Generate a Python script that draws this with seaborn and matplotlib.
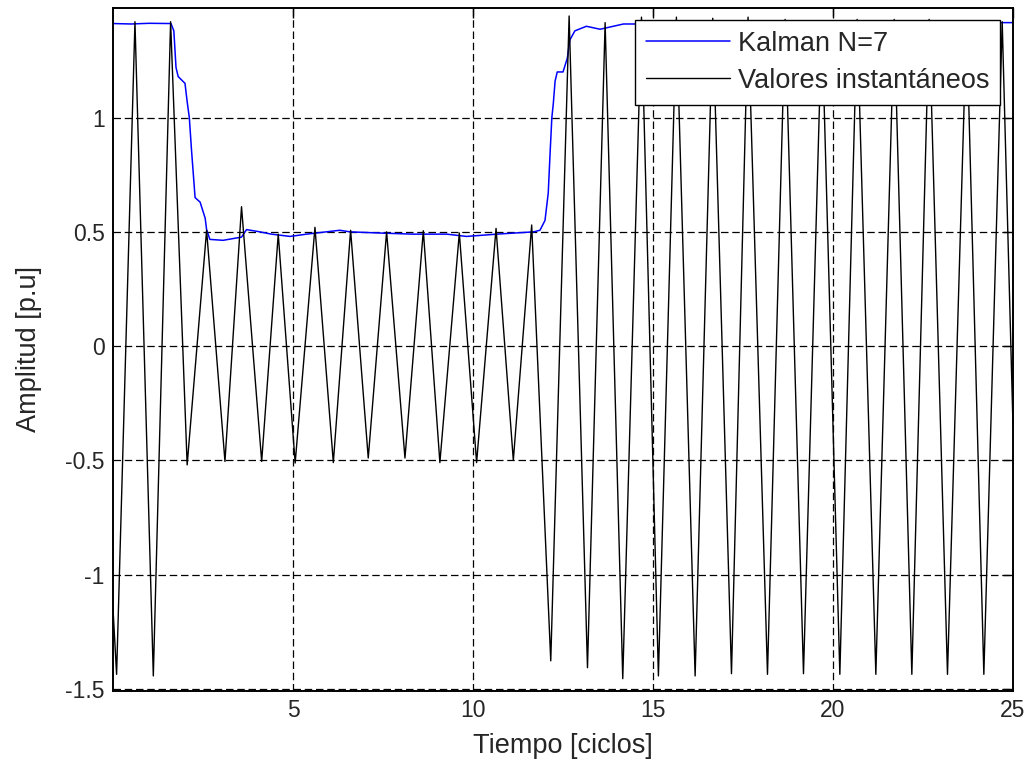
import numpy as np
import matplotlib
matplotlib.use("Agg")
import matplotlib.pyplot as plt
import seaborn as sns

# ── Datos ──────────────────────────────────────────────────────
# Valores instantáneos: extremos de cada semiciclo (tiempo en ciclos, amplitud p.u.)
inst_t = [0.0, 0.10, 0.61, 1.12, 1.60, 2.06, 2.60, 3.11, 3.57, 4.13, 4.59,
          5.06, 5.61, 6.12, 6.60, 7.09, 7.60, 8.11, 8.62, 9.08, 9.62,
          10.10, 10.64, 11.12, 11.63, 12.16, 12.67, 13.18, 13.67, 14.16, 14.68,
          15.15, 15.65, 16.17, 16.66, 17.18, 17.64, 18.18, 18.67, 19.18, 19.69,
          20.19, 20.67, 21.19, 21.70, 22.19, 22.67, 23.18, 23.71, 24.19, 24.70,
          25.0]
inst_v = [-1.15, -1.437, 1.42, -1.444, 1.42, -0.52, 0.507, -0.505, 0.61, -0.505, 0.49,
          -0.512, 0.52, -0.51, 0.507, -0.49, 0.50, -0.49, 0.505, -0.51, 0.495,
          -0.51, 0.515, -0.50, 0.53, -1.378, 1.445, -1.408, 1.416, -1.456, 1.44,
          -1.444, 1.44, -1.444, 1.435, -1.434, 1.44, -1.437, 1.43, -1.434, 1.425,
          -1.437, 1.43, -1.437, 1.43, -1.437, 1.43, -1.437, 1.425, -1.437, 1.42,
          -0.35]

# Estimación del filtro de Kalman N=7
kal_t = [0.0, 0.5, 1.0, 1.61, 1.69, 1.75, 1.81, 2.00, 2.06, 2.12, 2.18, 2.28,
         2.42, 2.56, 2.60, 2.69, 3.06, 3.57, 3.71, 4.08, 4.40, 4.92, 5.38,
         6.30, 6.58, 7.40, 8.33, 9.27, 9.82, 10.66, 11.68, 11.86, 12.00,
         12.09, 12.14, 12.19, 12.23, 12.28, 12.34, 12.50, 12.62, 12.69, 12.83,
         13.15, 13.53, 14.18, 15.0, 16.5, 18.0, 20.0, 22.0, 24.72, 25.0]
kal_v = [1.412, 1.41, 1.413, 1.412, 1.38, 1.22, 1.18, 1.15, 1.07, 1.00, 0.86, 0.65,
         0.63, 0.56, 0.51, 0.467, 0.463, 0.477, 0.51, 0.50, 0.49, 0.48, 0.49,
         0.507, 0.50, 0.495, 0.49, 0.49, 0.48, 0.49, 0.50, 0.507, 0.55,
         0.67, 0.84, 1.00, 1.06, 1.16, 1.20, 1.20, 1.26, 1.34, 1.38,
         1.40, 1.387, 1.41, 1.41, 1.415, 1.418, 1.42, 1.42, 1.416, 1.416]

x_ticks = [5, 10, 15, 20, 25]
y_ticks = [-1.5, -1, -0.5, 0, 0.5, 1]
y_tick_labels = ["-1.5", "-1", "-0.5", "0", "0.5", "1"]

sns.set_theme(style="white")
plt.rcParams["font.family"] = ["Liberation Sans", "DejaVu Sans"]
plt.rcParams["xtick.direction"] = "in"
plt.rcParams["ytick.direction"] = "in"

fig = plt.figure(figsize=(10.32, 7.65), dpi=100, facecolor="white")
ax = fig.add_axes([113 / 1032, 1 - 691 / 765, 900 / 1032, 683 / 765])

sns.lineplot(x=kal_t, y=kal_v, ax=ax, color="#0000ff", linewidth=1.1,
             label="Kalman N=7", estimator=None, sort=False)
sns.lineplot(x=inst_t, y=inst_v, ax=ax, color="black", linewidth=1.0,
             label="Valores instantáneos", estimator=None, sort=False)

ax.set_xlim(0, 25)
ax.set_ylim(-1.51, 1.48)
ax.set_xticks(x_ticks)
ax.set_yticks(y_ticks)
ax.set_yticklabels(y_tick_labels)
ax.tick_params(axis="both", labelsize=16.5, length=7, width=1, color="black",
               top=True, right=True, pad=6)
ax.grid(True, color="black", linestyle=(0, (6, 3)), linewidth=0.9)
for sp in ax.spines.values():
    sp.set_color("black")
    sp.set_linewidth(1.4)

ax.set_xlabel("Tiempo [ciclos]", fontsize=19.5, labelpad=8)
ax.set_ylabel("Amplitud [p.u]", fontsize=19.5, labelpad=17)

leg = ax.legend(loc="upper right", bbox_to_anchor=(0.9856, 0.9824),
                borderaxespad=0, fontsize=19.5, frameon=True, fancybox=False,
                framealpha=1, edgecolor="black", handlelength=3.1,
                handletextpad=0.3, labelspacing=0.4, borderpad=0.4)
leg.get_frame().set_linewidth(1.0)

fig.savefig("out.png", dpi=100, facecolor="white")
